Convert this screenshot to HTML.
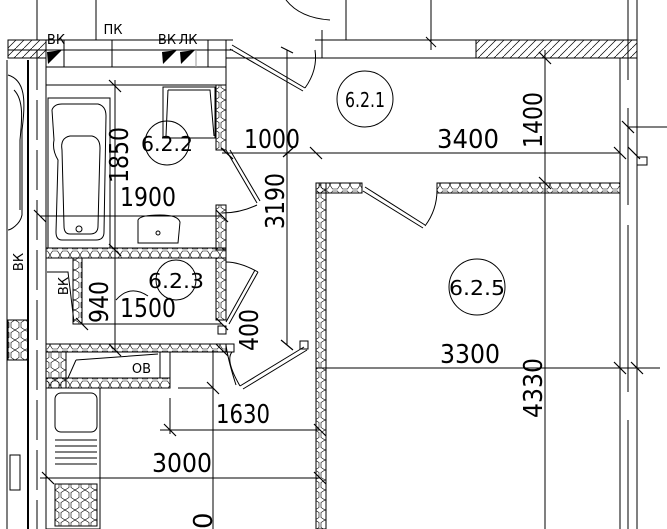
<!DOCTYPE html>
<html><head><meta charset="utf-8"><style>
html,body{margin:0;padding:0;background:#fff}
svg{display:block}
text{font-family:"DejaVu Sans","Liberation Sans",sans-serif;fill:#000}
</style></head><body>
<svg width="667" height="529" viewBox="0 0 667 529" xmlns="http://www.w3.org/2000/svg">
<defs>
<pattern id="hexh" width="10" height="10" patternUnits="userSpaceOnUse">
<path d="M0 5 L2.5 1 L7.5 1 L10 5 L7.5 9 L2.5 9 Z" fill="none" stroke="#000" stroke-width="0.6"/>
</pattern>
<pattern id="hexv" width="10" height="10" patternUnits="userSpaceOnUse">
<path d="M5 0 L9 2.5 L9 7.5 L5 10 L1 7.5 L1 2.5 Z" fill="none" stroke="#000" stroke-width="0.6"/>
</pattern>
<pattern id="hatch" width="8" height="8" patternUnits="userSpaceOnUse">
<path d="M0 8 L8 0" stroke="#000" stroke-width="0.7"/>
</pattern>
</defs>
<g fill="none" stroke="#000" stroke-width="1">
<line x1="28" y1="60" x2="28" y2="529" stroke-width="2"/>
<line x1="37" y1="0" x2="37" y2="529" stroke-dasharray="40,10"/>
<line x1="46" y1="67" x2="46" y2="529"/>
<line x1="7" y1="60" x2="7" y2="529"/>
<path d="M8 75 C25 80 26 100 22 130 L22 215 C20 225 10 230 8 230"/>
<path d="M14 90 C24 100 22 120 20 140 L20 210"/>
<rect x="8" y="320" width="20" height="40" fill="url(#hexv)"/>
<rect x="10" y="455" width="10" height="35"/>
<rect x="8" y="40" width="38" height="18" fill="url(#hatch)"/>
<line x1="46" y1="40" x2="233" y2="40"/>
<line x1="8" y1="50" x2="233" y2="50"/>
<line x1="46" y1="67" x2="226" y2="67"/>
<line x1="46" y1="40" x2="46" y2="67"/>
<line x1="64" y1="40" x2="64" y2="67"/>
<line x1="112" y1="40" x2="112" y2="67"/>
<line x1="196" y1="50" x2="196" y2="67" stroke="#999"/>
<line x1="208" y1="40" x2="208" y2="67"/>
<line x1="226" y1="40" x2="226" y2="67"/>
<line x1="226" y1="67" x2="226" y2="85"/>
<line x1="232" y1="45" x2="305" y2="88"/><line x1="230" y1="49" x2="303" y2="91"/>
<path d="M305 88 Q318 70 315 50"/>
<line x1="315" y1="40" x2="346" y2="40"/><line x1="346" y1="0" x2="346" y2="40"/>
<line x1="322" y1="30" x2="322" y2="58"/>
<path d="M286 0 Q300 18 330 20"/>
<line x1="226" y1="58" x2="620" y2="58"/>
<line x1="346" y1="40" x2="637" y2="40"/>
<rect x="476" y="40" width="161" height="18" fill="url(#hatch)"/>
<line x1="431" y1="0" x2="431" y2="50"/>
<line x1="426" y1="37" x2="436" y2="47"/>
<line x1="96" y1="0" x2="96" y2="40"/>
<line x1="620" y1="58" x2="620" y2="529"/>
<line x1="628" y1="0" x2="628" y2="80"/>
<line x1="628" y1="108" x2="628" y2="205"/>
<line x1="628" y1="225" x2="628" y2="392"/>
<line x1="628" y1="420" x2="628" y2="529"/>
<line x1="637" y1="0" x2="637" y2="529"/>
<line x1="628" y1="127" x2="667" y2="127"/>
<rect x="637" y="157" width="10" height="8"/>
<line x1="545" y1="50" x2="545" y2="529"/>
<line x1="222" y1="153" x2="620" y2="153"/>
<line x1="287" y1="50" x2="287" y2="345"/>
<line x1="316" y1="368" x2="660" y2="368"/>
<line x1="40" y1="216" x2="222" y2="216"/>
<line x1="115" y1="80" x2="115" y2="350"/>
<line x1="82" y1="324" x2="222" y2="324"/>
<line x1="160" y1="430" x2="320" y2="430"/>
<line x1="40" y1="478" x2="320" y2="478"/>
<line x1="213" y1="350" x2="213" y2="529"/>
<line x1="170" y1="398" x2="170" y2="434"/>
<line x1="178" y1="388" x2="213" y2="388"/>
<g stroke-width="1.2">
<path d="M281 47 L293 53 M310 147 L322 159 M614 147 L626 159 M539 52 L551 64 M539 177 L551 189 M221 148 L233 159 M109 80 L121 92 M34 210 L46 222 M216 210 L228 222 M109 244 L121 256 M76 318 L88 330 M216 318 L228 330 M109 344 L121 356 M216 344 L228 356 M281 340 L293 350 M207 382 L219 394 M164 424 L176 436 M314 424 L326 436 M42 472 L54 484 M314 472 L326 484 M614 362 L626 374 M631 362 L643 374 M622 121 L634 133 M628 147 L640 159 M283 157 L293 148"/>
</g>
<line x1="46" y1="85" x2="226" y2="85"/>
<rect x="216" y="85" width="10" height="65" fill="url(#hexv)"/>
<rect x="216" y="205" width="10" height="45" fill="url(#hexv)"/>
<rect x="48" y="98" width="62" height="150"/>
<path d="M52 110 Q54 104 62 104 L98 104 Q106 106 106 116 L104 232 Q104 240 96 240 L62 240 Q56 240 56 232 L58 160 Q52 150 54 140 Z"/>
<path d="M62 150 Q60 138 70 136 L92 136 Q100 138 100 148 L98 226 Q98 234 90 234 L70 234 Q64 234 64 226 Z"/>
<circle cx="79" cy="229" r="3"/>
<rect x="163" y="87" width="52" height="51"/>
<path d="M168 90 L210 90 L214 136 M168 90 L166 136"/>
<path d="M138 220 Q140 215 160 215 Q178 215 180 222 L178 243 L138 243 Z"/>
<circle cx="158" cy="233" r="2"/>
<circle cx="167" cy="143" r="22"/>
<line x1="226" y1="150" x2="257" y2="203"/><line x1="230" y1="150" x2="260" y2="201"/>
<path d="M257 205 Q240 213 222 213"/>
<rect x="46" y="248" width="180" height="10" fill="url(#hexh)"/>
<rect x="216" y="258" width="10" height="62" fill="url(#hexv)"/>
<rect x="73" y="258" width="9" height="66" fill="url(#hexv)"/>
<path d="M47 272 L68 272 L74 322"/>
<circle cx="176" cy="280" r="20"/>
<path d="M116 300 Q130 284 148 296"/>
<line x1="226" y1="322" x2="255" y2="270"/><line x1="229" y1="324" x2="258" y2="272"/>
<path d="M258 272 Q240 262 226 262"/>
<rect x="218" y="326" width="8" height="8"/>
<path d="M236 385 Q228 360 226 345"/>
<rect x="46" y="344" width="180" height="8" fill="url(#hexh)"/>
<rect x="46" y="352" width="20" height="36" fill="url(#hexv)"/>
<rect x="66" y="352" width="94" height="26"/>
<path d="M76 360 L158 354 M76 360 L68 378"/>
<rect x="46" y="378" width="124" height="10" fill="url(#hexh)"/>
<line x1="170" y1="352" x2="226" y2="352"/>
<line x1="170" y1="352" x2="170" y2="388"/>
<rect x="226" y="344" width="8" height="8"/>
<line x1="304" y1="347" x2="240" y2="386"/><line x1="307" y1="350" x2="243" y2="389"/>
<path d="M240 386 Q225 360 232 352"/>
<rect x="300" y="341" width="8" height="8"/>
<rect x="46" y="388" width="54" height="141"/>
<rect x="55" y="393" width="42" height="39" rx="6"/>
<path d="M55 440 L97 440 M55 446 L97 446 M55 452 L97 452 M55 458 L97 458 M55 464 L97 464"/>
<rect x="55" y="484" width="42" height="42" fill="url(#hexv)"/>
<rect x="316" y="183" width="10" height="346" fill="url(#hexv)"/>
<rect x="316" y="183" width="46" height="10" fill="url(#hexh)"/>
<rect x="437" y="183" width="183" height="10" fill="url(#hexh)"/>
<line x1="365" y1="187" x2="425" y2="225"/><line x1="363" y1="191" x2="423" y2="228"/>
<path d="M425 226 Q437 210 437 190"/>
<circle cx="365" cy="99" r="28"/>
<circle cx="477" cy="287" r="28"/>
</g>
<g font-size="26">
<text x="272" y="148" text-anchor="middle" textLength="56" lengthAdjust="spacingAndGlyphs">1000</text>
<text x="468" y="148" text-anchor="middle" textLength="62" lengthAdjust="spacingAndGlyphs">3400</text>
<text x="470" y="363" text-anchor="middle" textLength="60" lengthAdjust="spacingAndGlyphs">3300</text>
<text x="148" y="206" text-anchor="middle" textLength="56" lengthAdjust="spacingAndGlyphs">1900</text>
<text x="148" y="317" text-anchor="middle" textLength="56" lengthAdjust="spacingAndGlyphs">1500</text>
<text x="243" y="423" text-anchor="middle" textLength="54" lengthAdjust="spacingAndGlyphs">1630</text>
<text x="182" y="472" text-anchor="middle" textLength="60" lengthAdjust="spacingAndGlyphs">3000</text>
<text transform="translate(542,120) rotate(-90)" text-anchor="middle" textLength="56" lengthAdjust="spacingAndGlyphs">1400</text>
<text transform="translate(542,388) rotate(-90)" text-anchor="middle" textLength="60" lengthAdjust="spacingAndGlyphs">4330</text>
<text transform="translate(284,201) rotate(-90)" text-anchor="middle" textLength="56" lengthAdjust="spacingAndGlyphs">3190</text>
<text transform="translate(128,155) rotate(-90)" text-anchor="middle" textLength="56" lengthAdjust="spacingAndGlyphs">1850</text>
<text transform="translate(108,302) rotate(-90)" text-anchor="middle" textLength="42" lengthAdjust="spacingAndGlyphs">940</text>
<text transform="translate(258,330) rotate(-90)" text-anchor="middle" textLength="42" lengthAdjust="spacingAndGlyphs">400</text>
<text transform="translate(212,529) rotate(-90)" text-anchor="start">0</text>
</g>
<g font-size="20">
<text x="365" y="107" text-anchor="middle" textLength="40" lengthAdjust="spacingAndGlyphs">6.2.1</text>
<text x="167" y="151" text-anchor="middle" textLength="52" lengthAdjust="spacingAndGlyphs">6.2.2</text>
<text x="176" y="288" text-anchor="middle" textLength="56" lengthAdjust="spacingAndGlyphs">6.2.3</text>
<text x="477" y="295" text-anchor="middle" textLength="56" lengthAdjust="spacingAndGlyphs">6.2.5</text>
</g>
<g font-size="13">
<text x="56" y="44" text-anchor="middle">ВК</text>
<text x="113" y="34" text-anchor="middle">ПК</text>
<text x="167" y="44" text-anchor="middle">ВК</text>
<text x="188" y="44" text-anchor="middle">ЛК</text>
<text x="151" y="373" text-anchor="end">ОВ</text>
<text transform="translate(68,286) rotate(-90)" text-anchor="middle">ВК</text>
<text transform="translate(23,262) rotate(-90)" text-anchor="middle">ВК</text>
</g>
<g fill="#000">
<path d="M47 52 L62 50 L48 64 Z M162 52 L177 50 L163 64 Z M180 52 L195 50 L181 64 Z"/>
</g>
</svg>
</body></html>
